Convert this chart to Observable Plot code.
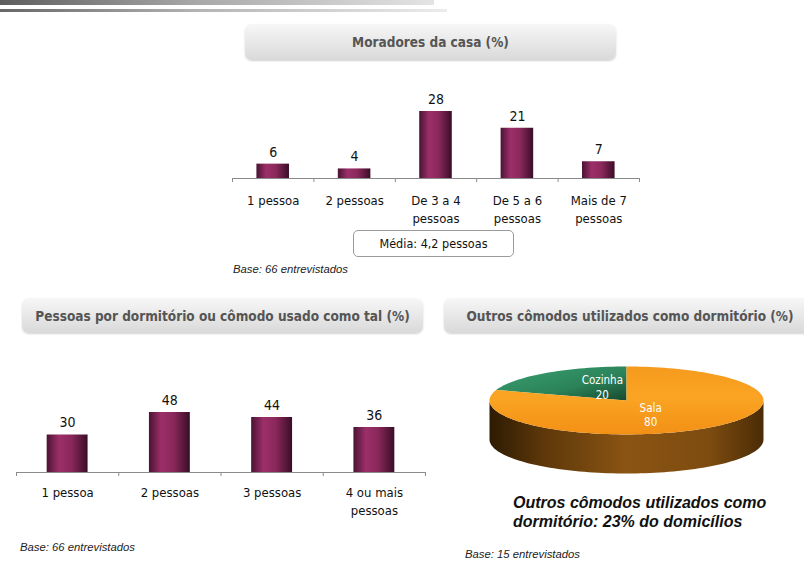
<!DOCTYPE html>
<html><head><meta charset="utf-8">
<script src="https://cdn.jsdelivr.net/npm/d3@7"></script>
<script src="https://cdn.jsdelivr.net/npm/@observablehq/plot@0.6"></script>
<style>
body{margin:0;background:#fff;}
#page{position:relative;width:804px;height:561px;overflow:hidden;font-family:"DejaVu Sans Condensed","DejaVu Sans",sans-serif;font-stretch:condensed;}
.abs{position:absolute;}
.hbar1{left:0;top:0;width:434px;height:5px;background:linear-gradient(to right,#5e5e5e,#a8a8a8 45%,#e4e4e4);}
.hbar2{left:0;top:9px;width:447px;height:3px;background:linear-gradient(to right,#676767,#b5b5b5 45%,#ececec);}
.tbox{border-radius:7px;background:linear-gradient(#f7f7f7,#d9d9d9);box-shadow:0 1px 2px rgba(0,0,0,.18);display:flex;align-items:center;justify-content:center;font-weight:bold;color:#555;font-size:13.5px;white-space:nowrap;}
.base{font-family:"Liberation Sans",Arial,sans-serif;font-style:italic;font-size:11.3px;line-height:13px;color:#222;white-space:nowrap;}
.media{left:353px;top:230px;width:159px;height:25px;border:1px solid #9a9a9a;border-radius:5px;display:flex;align-items:center;justify-content:center;font-size:12.5px;color:#111;background:#fff;}
.big{left:513px;top:493px;font-family:"Liberation Sans",Arial,sans-serif;font-weight:bold;font-style:italic;font-size:16px;line-height:19px;color:#111;white-space:nowrap;}
</style></head>
<body>
<div id="page">
<svg width="0" height="0" style="position:absolute">
 <defs>
  <linearGradient id="barGrad" x1="0" x2="1" y1="0" y2="0">
   <stop offset="0" stop-color="#4a1333"/>
   <stop offset="0.3" stop-color="#9c2f69"/>
   <stop offset="0.6" stop-color="#8a285b"/>
   <stop offset="1" stop-color="#3a0d27"/>
  </linearGradient>
  <linearGradient id="orangeTop" x1="0" x2="0" y1="0" y2="1">
   <stop offset="0" stop-color="#f59a1d"/>
   <stop offset="0.45" stop-color="#fba423"/>
   <stop offset="1" stop-color="#f29015"/>
  </linearGradient>
  <linearGradient id="greenTop" x1="0" x2="1" y1="0" y2="1">
   <stop offset="0" stop-color="#3aa172"/>
   <stop offset="0.6" stop-color="#2b8259"/>
   <stop offset="1" stop-color="#17492f"/>
  </linearGradient>
  <linearGradient id="side" x1="0" x2="1" y1="0" y2="0">
   <stop offset="0" stop-color="#2e1b03"/>
   <stop offset="0.2" stop-color="#5e380a"/>
   <stop offset="0.5" stop-color="#8a5413"/>
   <stop offset="0.8" stop-color="#7e4c10"/>
   <stop offset="1" stop-color="#4a2c06"/>
  </linearGradient>
 </defs>
</svg>
<div class="abs hbar1"></div>
<div class="abs hbar2"></div>
<div class="abs tbox" style="left:245px;top:24px;width:371px;height:36px;">Moradores da casa (%)</div>
<div class="abs tbox" style="left:22px;top:298px;width:401px;height:35px;">Pessoas por dormitório ou cômodo usado como tal (%)</div>
<div class="abs tbox" style="left:444px;top:298px;width:372px;height:35px;">Outros cômodos utilizados como dormitório (%)</div>
<div id="c1" class="abs" style="left:212px;top:86px;"></div>
<div id="c2" class="abs" style="left:0px;top:387px;"></div>
<div id="c3" class="abs" style="left:480px;top:355px;"></div>
<div class="abs media">Média: 4,2 pessoas</div>
<div class="abs base" style="left:233px;top:263px;">Base: 66 entrevistados</div>
<div class="abs base" style="left:20px;top:541px;">Base: 66 entrevistados</div>
<div class="abs base" style="left:465px;top:548px;">Base: 15 entrevistados</div>
<div class="abs big">Outros cômodos utilizados como<br>dormitório: 23% do domicílios</div>
</div>
<script>
// ---- data ----
const moradoresCats = ["1 pessoa", "2 pessoas", "De 3 a 4\npessoas", "De 5 a 6\npessoas", "Mais de 7\npessoas"];
const moradoresVals = [6, 4, 28, 21, 7];

const dormCats = ["1 pessoa", "2 pessoas", "3 pessoas", "4 ou mais\npessoas"];
const dormVals = [30, 48, 44, 36];

const comodosCats = ["Cozinha", "Sala"];
const comodosVals = [20, 80];

const FONT = '"DejaVu Sans Condensed","DejaVu Sans",sans-serif';

function barChart(cats, vals, opts) {
  const n = cats.length;
  const data = cats.map((c, i) => ({i, cat: c, v: vals[i]}));
  return Plot.plot({
    width: opts.width, height: opts.height,
    marginLeft: opts.ml, marginRight: opts.mr, marginTop: opts.mt, marginBottom: opts.mb,
    style: {fontFamily: FONT, fontStretch: "condensed", color: "#000", background: "transparent", overflow: "visible"},
    x: {type: "linear", domain: [0, n], axis: null},
    y: {domain: [0, d3.max(vals)], axis: null},
    marks: [
      Plot.rectY(data, {x1: d => d.i + 0.3, x2: d => d.i + 0.7, y: "v", fill: "url(#barGrad)"}),
      Plot.ruleY([0], {stroke: "#8a8a8a"}),
      Plot.axisX(d3.range(n + 1), {tickSize: 4, tickFormat: () => "", stroke: "#8a8a8a"}),
      Plot.axisX(d3.range(n).map(i => i + 0.5), {tickSize: 0, tickPadding: opts.pad, fontSize: 13, lineHeight: 1.35, tickFormat: x => cats[Math.floor(x)], fill: "#111"}),
      Plot.text(data, {x: d => d.i + 0.5, y: "v", text: "v", dy: -12, fontSize: 14, fill: "#111"})
    ]
  });
}

document.getElementById("c1").append(barChart(moradoresCats, moradoresVals, {width: 440, height: 137, ml: 20, mr: 13, mt: 25, mb: 45, pad: 14}));
document.getElementById("c2").append(barChart(dormCats, dormVals, {width: 440, height: 130, ml: 16, mr: 15, mt: 25, mb: 45, pad: 12}));

// ---- 3D pie ----
const total = d3.sum(comodosVals);
const depth = 1.15; // side thickness in units of vertical radius
let a0 = -2 * Math.PI * comodosVals[0] / total;
const slices = comodosCats.map((c, k) => {
  const a1 = a0 + 2 * Math.PI * comodosVals[k] / total;
  const s = {cat: c, v: comodosVals[k], a0, a1};
  a0 = a1;
  return s;
});
const arcPts = (s, e, off) => {
  const pts = [];
  const steps = Math.max(4, Math.ceil(Math.abs(e - s) / (Math.PI / 90)));
  for (let j = 0; j <= steps; j++) {
    const a = s + (e - s) * j / steps;
    pts.push({x: Math.sin(a), y: -Math.cos(a) + off});
  }
  return pts;
};
const slicePoly = s => [{x: 0, y: 0}, ...arcPts(s.a0, s.a1, 0), {x: 0, y: 0}];
const sidePoly = [...arcPts(Math.PI / 2, 3 * Math.PI / 2, 0), ...arcPts(3 * Math.PI / 2, Math.PI / 2, depth)];
const fills = {Cozinha: "url(#greenTop)", Sala: "url(#orangeTop)"};
const labelR = 0.5, labelSqueeze = 0.6;
const labels = slices.map(s => {
  const m = (s.a0 + s.a1) / 2;
  return {x: Math.sin(m) * labelR * labelSqueeze, y: -Math.cos(m) * labelR, text: s.cat + "\n" + s.v};
});

const pie = Plot.plot({
  width: 300, height: 130, margin: 0,
  style: {fontFamily: FONT, fontStretch: "condensed", background: "transparent", overflow: "visible"},
  x: {type: "linear", domain: [-1, 1], range: [9, 283], axis: null},
  y: {type: "linear", domain: [-1, 1 + depth], range: [11, 118], axis: null},
  marks: [
    Plot.line(sidePoly, {x: "x", y: "y", fill: "url(#side)", stroke: "none"}),
    ...slices.map(s => Plot.line(slicePoly(s), {x: "x", y: "y", fill: fills[s.cat], stroke: "none"})),
    Plot.text(labels, {x: "x", y: "y", text: "text", fill: "white", fontSize: 11.5, lineHeight: 1.3})
  ]
});
document.getElementById("c3").append(pie);
</script>
</body></html>
